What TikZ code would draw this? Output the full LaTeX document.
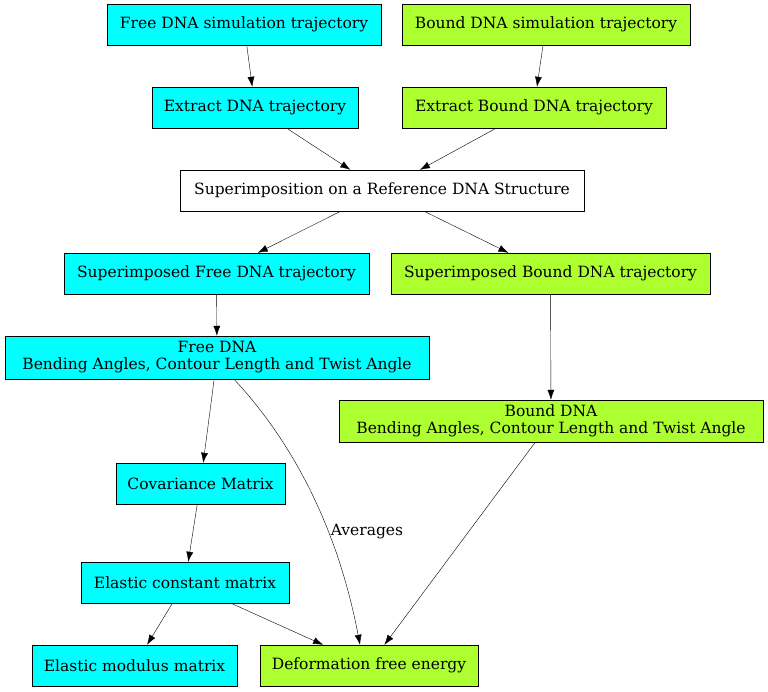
\documentclass[tikz,border=0pt]{standalone}
\usepackage{fontspec}
\setmainfont{DejaVu Serif}
\usetikzlibrary{arrows.meta}
\definecolor{cyx}{RGB}{0,255,255}
\definecolor{grx}{RGB}{173,255,47}
\begin{document}
\begin{tikzpicture}[x=1pt,y=-1pt,
 box/.style={draw,rectangle,inner sep=0pt,minimum height=41pt,align=center,font=\fontsize{15.5}{17}\selectfont},
 cy/.style={box,fill=cyx},
 gr/.style={box,fill=grx},
 arr/.style={-{Latex[length=10pt,width=7pt]}}]
\useasboundingbox (0,0) rectangle (768,691);
\node[cy,minimum width=274pt] (fs) at (244,24.5) {Free DNA simulation trajectory};
\node[gr,minimum width=288pt] (bs) at (546,24.5) {Bound DNA simulation trajectory};
\node[cy,minimum width=206pt] (fe) at (255,107.5) {Extract DNA trajectory};
\node[gr,minimum width=264pt] (be) at (534,107.5) {Extract Bound DNA trajectory};
\node[box,minimum width=404pt] (sup) at (382,190.5) {Superimposition on a Reference DNA Structure};
\node[cy,minimum width=305pt] (fsi) at (216.5,273.5) {Superimposed Free DNA trajectory};
\node[gr,minimum width=319pt] (bsi) at (550.5,273.5) {Superimposed Bound DNA trajectory};
\node[cy,minimum width=424pt,minimum height=43pt] (fb) at (217,357.5) {Free DNA\\ Bending Angles, Contour Length and Twist Angle};
\node[gr,minimum width=424pt,minimum height=42pt] (bb) at (551,421) {Bound DNA\\ Bending Angles, Contour Length and Twist Angle};
\node[cy,minimum width=169pt] (cov) at (200.5,483.5) {Covariance Matrix};
\node[cy,minimum width=208pt] (ec) at (185,582.5) {Elastic constant matrix};
\node[cy,minimum width=205pt] (em) at (134.5,665.5) {Elastic modulus matrix};
\node[gr,minimum width=218pt] (df) at (369,665.5) {Deformation free energy};
\draw[arr] (fs) -- (fe);
\draw[arr] (bs) -- (be);
\draw[arr] (fe) -- (sup);
\draw[arr] (be) -- (sup);
\draw[arr] (sup) -- (fsi);
\draw[arr] (sup) -- (bsi);
\draw[arr] (fsi) -- (fb);
\draw[arr] (bsi) -- (bb);
\draw[arr] (fb) -- (cov);
\draw[arr] (cov) -- (ec);
\draw[arr] (ec) -- (em);
\draw[arr] (ec) -- (df);
\draw[arr] (bb) -- (df);
\draw[arr] (fb.south -| 234,0) .. controls (300,450) and (340,540) .. (df.north -| 360,0);
\node[font=\fontsize{15.5}{17}\selectfont] (avg) at (367,532) {Averages};
\end{tikzpicture}
\end{document}
